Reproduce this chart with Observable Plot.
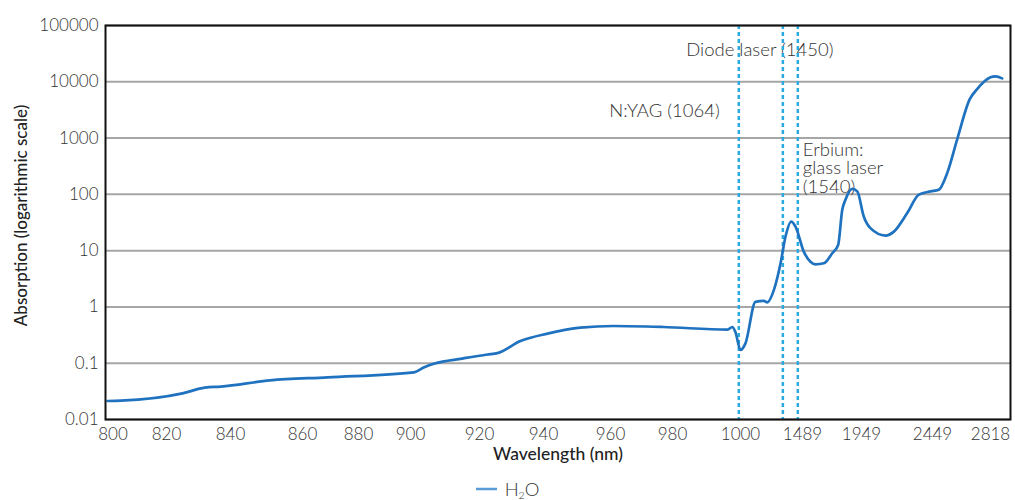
<!DOCTYPE html>
<html><head><meta charset="utf-8">
<script src="https://cdn.jsdelivr.net/npm/d3@7"></script>
<script src="https://cdn.jsdelivr.net/npm/@observablehq/plot@0.6"></script>
<style>
body{margin:0;background:#fff;font-family:Lato,"Open Sans",sans-serif;}
#legend{display:flex;justify-content:center;align-items:center;height:30px;margin-top:4px;font-size:18.5px;line-height:18px;color:#333;font-weight:300;}
#legend sub{font-size:10.5px;vertical-align:-3px;line-height:0;}
</style></head><body>
<div id="chart"></div>
<div id="legend"><svg width="21" height="4"><line x1="0" x2="21" y1="2" y2="2" stroke="#5b9bd5" stroke-width="2.5"/></svg><span style="margin-left:8px">H<sub>2</sub>O</span></div>
<script>
// Data
const wavelength = [798, 803, 825, 832, 837, 851, 869, 901, 904, 907, 915, 922.5, 925.6, 932.8, 941.2, 951, 961, 977, 996.2, 997.6, 998.5, 1000, 1039, 1118, 1184, 1211, 1263, 1316, 1355, 1400, 1434, 1499, 1551, 1590, 1655, 1721, 1767, 1799, 1824, 1877, 1916, 1965, 2012, 2118, 2177, 2271, 2353, 2435, 2489, 2543, 2606, 2686, 2733, 2818, 2850, 2892];
const absorption = [0.0213, 0.0216, 0.0291, 0.0368, 0.0384, 0.0497, 0.0562, 0.069, 0.0848, 0.0988, 0.121, 0.143, 0.151, 0.247, 0.335, 0.429, 0.458, 0.44, 0.395, 0.44, 0.358, 0.172, 0.225, 1.23, 1.28, 1.2, 1.99, 5.96, 17.8, 32.9, 26.8, 9.6, 6.36, 5.71, 5.96, 8.99, 12.6, 53.3, 80.4, 125, 113, 40.5, 25.1, 18.5, 21.8, 46.6, 98.8, 113, 121, 241, 948, 4910, 7410, 11990, 12480, 11500];
const xTickLabels = [800, 820, 840, 860, 880, 900, 920, 940, 960, 980, 1000, 1489, 1949, 2449, 2818];
const yTickLabels = [0.01, 0.1, 1, 10, 100, 1000, 10000, 100000];
const laserNames = ["N:YAG (1064)", "Diode laser (1450)", "Erbium:\nglass laser\n(1540)"];
const laserX = [999.5, 1334, 1452];
const laserLabelY = [3000, 36000, 290];
const seriesName = "H2O";

const data = wavelength.map((w, i) => ({w, a: absorption[i]}));
const fmt = d => String(d);
const txt = {fill: "#333", fontSize: 18.5, fontWeight: 300};

const plot = Plot.plot({
  width: 1015, height: 470,
  marginTop: 25, marginBottom: 51, marginLeft: 105, marginRight: 5,
  style: {fontFamily: "Lato, 'Open Sans', sans-serif", fontSize: "17px", color: "#333", background: "#fff"},
  x: {type: "linear", domain: xTickLabels, range: [112.5, 166, 230, 302, 358, 410, 479, 543, 610, 672, 740, 802, 861, 932, 990]},
  y: {type: "log", domain: [0.01, 100000]},
  marks: [
    Plot.gridY(yTickLabels, {stroke: "#a6a6a6", strokeOpacity: 1, strokeWidth: 2}),
    Plot.axisY(yTickLabels, {tickSize: 0, tickPadding: 7, tickFormat: fmt, label: null, fontWeight: 300}),
    Plot.axisX(xTickLabels, {tickSize: 0, tickPadding: 8, tickFormat: fmt, label: null, fontWeight: 300}),
    Plot.text([0], {x: i => laserX[i], y: i => laserLabelY[i], text: i => laserNames[i], textAnchor: "end", dx: -19, ...txt}),
    Plot.text([1], {x: i => laserX[i], y: i => laserLabelY[i], text: i => laserNames[i], textAnchor: "middle", dx: -23, ...txt}),
    Plot.text([2], {x: i => laserX[i], y: i => laserLabelY[i], text: i => laserNames[i], textAnchor: "start", dx: 5, lineHeight: 1.0, ...txt}),
    Plot.ruleX(laserX, {stroke: "#29abe2", strokeWidth: 2.5, strokeDasharray: "4,3"}),
    Plot.line(data, {x: "w", y: "a", stroke: "#1f72bf", strokeWidth: 2.7, curve: "monotone-x"}),
    Plot.frame({stroke: "#111", strokeWidth: 2}),
    Plot.text(["Absorption (logarithmic scale)"], {frameAnchor: "left", textAnchor: "middle", rotate: -90, dx: -84, dy: -7, fontSize: 17, fontWeight: 500, fill: "#222"}),
    Plot.text(["Wavelength (nm)"], {frameAnchor: "bottom", textAnchor: "middle", dy: 40, fontSize: 17.5, fontWeight: 500, fill: "#222"})
  ]
});
document.getElementById("chart").append(plot);
</script>
</body></html>
